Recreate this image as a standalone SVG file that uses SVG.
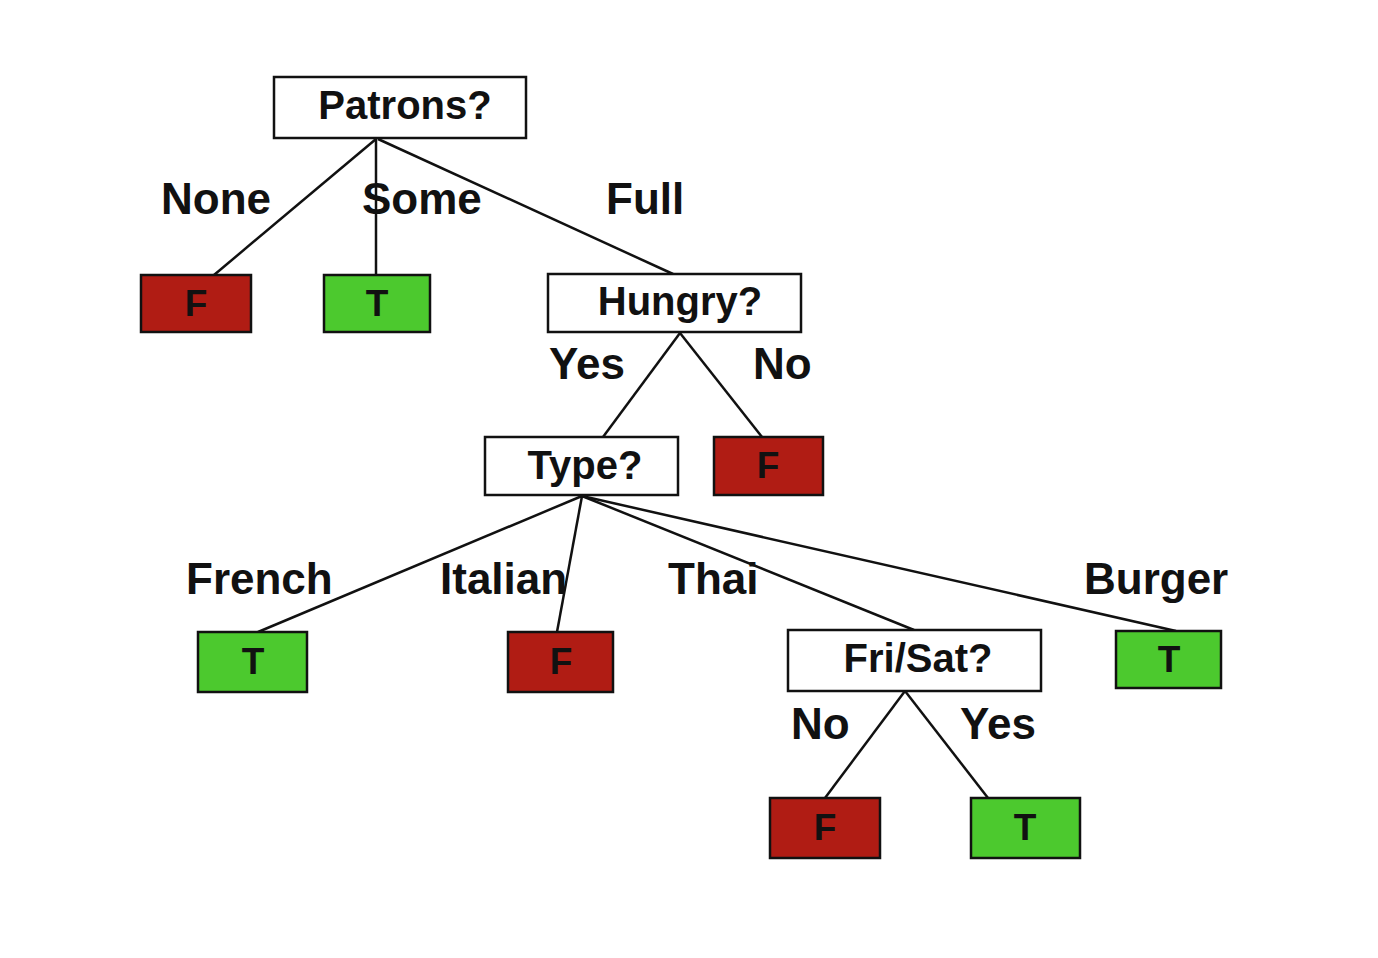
<svg xmlns="http://www.w3.org/2000/svg" width="1378" height="958" viewBox="0 0 1378 958">
<style>
text{font-family:"Liberation Sans",Arial,sans-serif;font-weight:bold;fill:#111}
.q{fill:#fff;stroke:#111;stroke-width:2.5}
.r{fill:#b01c14;stroke:#111;stroke-width:2.5}
.g{fill:#4cc92e;stroke:#111;stroke-width:2.5}
.nt{font-size:40px;text-anchor:middle}
.lt{font-size:37px;text-anchor:middle}
.lb{font-size:44px}
#edges line{stroke:#111;stroke-width:2.5}
</style>
<rect width="1378" height="958" fill="#fff"/>
<g id="edges">
<line x1="376" y1="139" x2="214" y2="275"/>
<line x1="376" y1="139" x2="376" y2="275"/>
<line x1="378" y1="139" x2="673" y2="274"/>
<line x1="680" y1="333" x2="603" y2="437"/>
<line x1="680" y1="333" x2="762" y2="437"/>
<line x1="582" y1="496" x2="258" y2="632"/>
<line x1="582" y1="496" x2="557" y2="632"/>
<line x1="582" y1="496" x2="914" y2="630"/>
<line x1="582" y1="496" x2="1176" y2="631"/>
<line x1="905" y1="691" x2="825" y2="798"/>
<line x1="905" y1="691" x2="988" y2="798"/>
</g>
<g id="labels">
<text class="lb" x="161" y="214">None</text>
<text class="lb" x="362" y="214">Some</text>
<text class="lb" x="606" y="214">Full</text>
<text class="lb" x="549" y="379">Yes</text>
<text class="lb" x="753" y="379">No</text>
<text class="lb" x="186" y="594">French</text>
<text class="lb" x="440" y="594">Italian</text>
<text class="lb" x="668" y="594">Thai</text>
<text class="lb" x="1084" y="594">Burger</text>
<text class="lb" x="791" y="739">No</text>
<text class="lb" x="960" y="739">Yes</text>
</g>
<g id="patrons"><rect class="q" x="274" y="77" width="252" height="61"/><text class="nt" x="405" y="119">Patrons?</text></g>
<g id="leaf-none"><rect class="r" x="141" y="275" width="110" height="57"/><text class="lt" x="196" y="316">F</text></g>
<g id="leaf-some"><rect class="g" x="324" y="275" width="106" height="57"/><text class="lt" x="377" y="316">T</text></g>
<g id="hungry"><rect class="q" x="548" y="274" width="253" height="58"/><text class="nt" x="680" y="315">Hungry?</text></g>
<g id="type"><rect class="q" x="485" y="437" width="193" height="58"/><text class="nt" x="585" y="479">Type?</text></g>
<g id="leaf-hungry-no"><rect class="r" x="714" y="437" width="109" height="58"/><text class="lt" x="768" y="478">F</text></g>
<g id="leaf-french"><rect class="g" x="198" y="632" width="109" height="60"/><text class="lt" x="253" y="674">T</text></g>
<g id="leaf-italian"><rect class="r" x="508" y="632" width="105" height="60"/><text class="lt" x="561" y="674">F</text></g>
<g id="frisat"><rect class="q" x="788" y="630" width="253" height="61"/><text class="nt" x="918" y="672">Fri/Sat?</text></g>
<g id="leaf-burger"><rect class="g" x="1116" y="631" width="105" height="57"/><text class="lt" x="1169" y="672">T</text></g>
<g id="leaf-frisat-no"><rect class="r" x="770" y="798" width="110" height="60"/><text class="lt" x="825" y="840">F</text></g>
<g id="leaf-frisat-yes"><rect class="g" x="971" y="798" width="109" height="60"/><text class="lt" x="1025" y="840">T</text></g>
</svg>
